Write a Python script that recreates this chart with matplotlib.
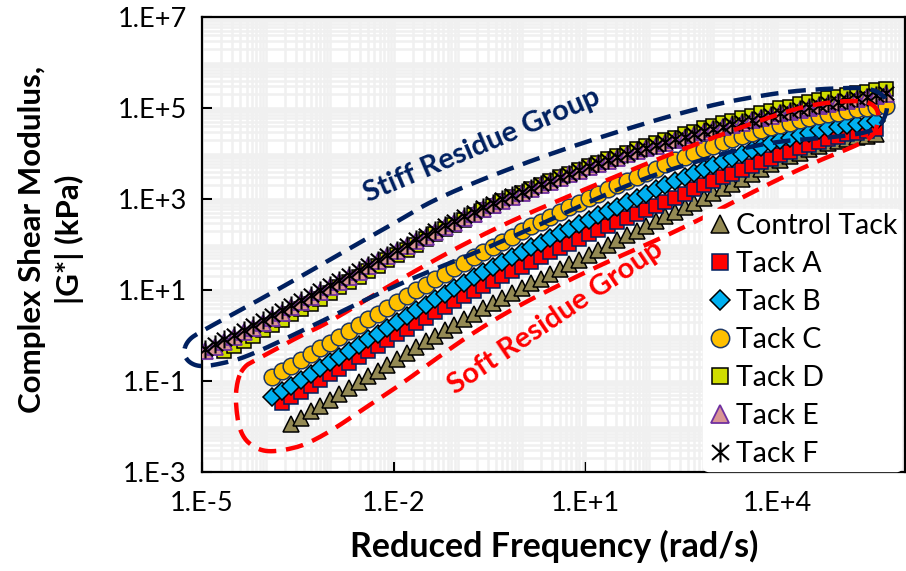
import numpy as np
import matplotlib
matplotlib.use("Agg")
import matplotlib.pyplot as plt
from matplotlib.path import Path
from matplotlib.transforms import Affine2D
from matplotlib.ticker import FixedLocator, LogLocator, FuncFormatter, NullFormatter

plt.rcParams['font.family'] = ['Lato', 'DejaVu Sans']

# log10 of reduced frequency (rad/s), shared grid
log_freq = [-4.95, -4.80, -4.65, -4.50, -4.35, -4.20, -4.05, -3.90, -3.75, -3.60, -3.45, -3.30,
            -3.15, -3.00, -2.85, -2.70, -2.55, -2.40, -2.25, -2.10, -1.95, -1.80, -1.65, -1.50,
            -1.35, -1.20, -1.05, -0.90, -0.75, -0.60, -0.45, -0.30, -0.15, 0.00, 0.15, 0.30,
            0.45, 0.60, 0.75, 0.90, 1.05, 1.20, 1.35, 1.50, 1.65, 1.80, 1.95, 2.10,
            2.25, 2.40, 2.55, 2.70, 2.85, 3.00, 3.15, 3.30, 3.45, 3.60, 3.75, 3.90,
            4.05, 4.20, 4.35, 4.50, 4.65, 4.80, 4.95, 5.10, 5.25, 5.40, 5.55, 5.70]

series_names = ["Control Tack", "Tack A", "Tack B", "Tack C", "Tack D", "Tack E", "Tack F"]
start_idx = [9, 8, 7, 7, 2, 0, 0]

# log10 of |G*| (kPa)
control_logG = [-1.94, -1.81, -1.67, -1.54, -1.41, -1.28, -1.15, -1.02, -0.90, -0.77, -0.64, -0.51,
                -0.39, -0.26, -0.13, -0.01, 0.11, 0.23, 0.36, 0.48, 0.60, 0.71, 0.82, 0.93,
                1.04, 1.15, 1.25, 1.36, 1.46, 1.57, 1.67, 1.78, 1.88, 1.99, 2.09, 2.20,
                2.30, 2.41, 2.51, 2.62, 2.72, 2.82, 2.92, 3.03, 3.13, 3.24, 3.34, 3.45,
                3.55, 3.65, 3.76, 3.85, 3.94, 4.02, 4.09, 4.16, 4.22, 4.28, 4.32, 4.36,
                4.39, 4.42]
tackA_logG = [-1.49, -1.36, -1.24, -1.11, -0.98, -0.85, -0.73, -0.60, -0.47, -0.35, -0.22, -0.09,
              0.03, 0.15, 0.27, 0.39, 0.51, 0.63, 0.75, 0.86, 0.98, 1.09, 1.20, 1.30,
              1.41, 1.51, 1.62, 1.72, 1.83, 1.93, 2.02, 2.12, 2.22, 2.31, 2.40, 2.49,
              2.58, 2.67, 2.76, 2.85, 2.94, 3.03, 3.12, 3.21, 3.30, 3.39, 3.48, 3.56,
              3.64, 3.73, 3.81, 3.89, 3.97, 4.04, 4.11, 4.18, 4.25, 4.31, 4.37, 4.42,
              4.46, 4.50, 4.53]
tackB_logG = [-1.36, -1.23, -1.11, -0.98, -0.85, -0.72, -0.59, -0.47, -0.34, -0.21, -0.08, 0.04,
              0.17, 0.30, 0.42, 0.55, 0.67, 0.80, 0.92, 1.04, 1.16, 1.28, 1.40, 1.51,
              1.62, 1.73, 1.83, 1.94, 2.04, 2.15, 2.25, 2.34, 2.44, 2.54, 2.64, 2.73,
              2.83, 2.93, 3.03, 3.12, 3.21, 3.30, 3.39, 3.48, 3.57, 3.66, 3.75, 3.83,
              3.91, 3.99, 4.07, 4.15, 4.22, 4.29, 4.35, 4.41, 4.46, 4.51, 4.55, 4.58,
              4.62, 4.65, 4.68, 4.71]
tackC_logG = [-0.92, -0.79, -0.67, -0.54, -0.41, -0.28, -0.16, -0.03, 0.10, 0.23, 0.36, 0.48,
              0.61, 0.74, 0.87, 0.99, 1.12, 1.24, 1.36, 1.48, 1.60, 1.72, 1.84, 1.95,
              2.06, 2.17, 2.29, 2.40, 2.50, 2.61, 2.71, 2.82, 2.92, 3.02, 3.12, 3.21,
              3.31, 3.40, 3.49, 3.58, 3.67, 3.76, 3.85, 3.93, 4.01, 4.09, 4.17, 4.25,
              4.32, 4.39, 4.46, 4.52, 4.58, 4.63, 4.68, 4.73, 4.78, 4.82, 4.86, 4.90,
              4.94, 4.97, 5.00, 5.02, 5.04]
tackD_logG = [-0.34, -0.23, -0.12, -0.01, 0.11, 0.22, 0.34, 0.47, 0.58, 0.70, 0.81, 0.94,
              1.06, 1.17, 1.29, 1.42, 1.53, 1.65, 1.77, 1.88, 2.00, 2.11, 2.22, 2.33,
              2.43, 2.54, 2.65, 2.75, 2.85, 2.95, 3.04, 3.14, 3.22, 3.31, 3.39, 3.48,
              3.56, 3.64, 3.73, 3.80, 3.88, 3.95, 4.02, 4.10, 4.16, 4.23, 4.29, 4.35,
              4.42, 4.48, 4.55, 4.61, 4.67, 4.72, 4.77, 4.83, 4.88, 4.93, 4.99, 5.03,
              5.08, 5.13, 5.17, 5.21, 5.25, 5.28, 5.32, 5.36, 5.39, 5.42]
tackE_logG = [-0.35, -0.25, -0.14, -0.04, 0.07, 0.17, 0.28, 0.39, 0.50, 0.62, 0.73, 0.84,
              0.95, 1.07, 1.18, 1.29, 1.40, 1.52, 1.63, 1.74, 1.85, 1.96, 2.07, 2.17,
              2.28, 2.38, 2.48, 2.58, 2.68, 2.78, 2.87, 2.96, 3.05, 3.14, 3.22, 3.30,
              3.38, 3.46, 3.54, 3.62, 3.70, 3.77, 3.84, 3.91, 3.98, 4.05, 4.11, 4.17,
              4.23, 4.29, 4.35, 4.41, 4.47, 4.53, 4.58, 4.63, 4.68, 4.73, 4.78, 4.83,
              4.88, 4.92, 4.96, 5.01, 5.05, 5.09, 5.13, 5.16, 5.20, 5.24, 5.27, 5.30]
tackF_logG = [-0.29, -0.19, -0.08, 0.02, 0.13, 0.23, 0.34, 0.45, 0.56, 0.68, 0.79, 0.90,
              1.01, 1.12, 1.22, 1.33, 1.44, 1.56, 1.67, 1.78, 1.89, 2.00, 2.11, 2.21,
              2.32, 2.42, 2.52, 2.62, 2.72, 2.82, 2.91, 3.00, 3.09, 3.16, 3.24, 3.32,
              3.40, 3.48, 3.56, 3.64, 3.72, 3.79, 3.86, 3.93, 4.00, 4.07, 4.13, 4.19,
              4.25, 4.31, 4.37, 4.43, 4.49, 4.54, 4.59, 4.64, 4.69, 4.74, 4.79, 4.84,
              4.89, 4.93, 4.97, 5.02, 5.06, 5.10, 5.14, 5.17, 5.21, 5.25, 5.28, 5.32]

all_logG = [control_logG, tackA_logG, tackB_logG, tackC_logG, tackD_logG, tackE_logG, tackF_logG]

y_tick_exps = [-3, -1, 1, 3, 5, 7]
x_tick_exps = [-5, -2, 1, 4]

# asterisk-like marker for Tack F (X with a vertical bar)
star_path = Path([(0, 1), (0, -1), (-0.85, 0.75), (0.85, -0.75), (-0.85, -0.75), (0.85, 0.75)],
                 [Path.MOVETO, Path.LINETO, Path.MOVETO, Path.LINETO, Path.MOVETO, Path.LINETO])

styles = [
    dict(marker='^', ms=12, mfc='#948A54', mec='black', mew=1.1),
    dict(marker='s', ms=10, mfc='#FF0000', mec='#002060', mew=1.1),
    dict(marker='D', ms=9, mfc='#00B0F0', mec='black', mew=1.1),
    dict(marker='o', ms=12, mfc='#FFC000', mec='#1F3864', mew=1.1),
    dict(marker='s', ms=10, mfc='#CFDC00', mec='black', mew=1.1),
    dict(marker='^', ms=12, mfc='#D99594', mec='#7030A0', mew=1.3),
    dict(marker=star_path, ms=13, mfc='none', mec='black', mew=1.5),
]

W, H = 906, 571
fig = plt.figure(figsize=(W / 100, H / 100), dpi=100)
ax = fig.add_axes([202 / W, 99 / H, 703 / W, 455 / H])
ax.set_xscale('log')
ax.set_yscale('log')
ax.set_xlim(1e-5, 1e6)
ax.set_ylim(1e-3, 1e7)

handles = []
for name, logG, i0, st in zip(series_names, all_logG, start_idx, styles):
    lf = np.array(log_freq[i0:i0 + len(logG)])
    ax.plot(10 ** lf, 10 ** np.array(logG), linestyle='none', zorder=3, **st)
    # legend handle with slightly bigger marker, like the Excel legend
    h, = ax.plot([], [], linestyle='none', label=name, **dict(st, ms=st['ms'] * 1.1))
    handles.append(h)

# grid on every decade and sub-decade
ax.xaxis.set_major_locator(FixedLocator([10.0 ** e for e in x_tick_exps]))
ax.yaxis.set_major_locator(FixedLocator([10.0 ** e for e in y_tick_exps]))
ax.xaxis.set_minor_locator(LogLocator(base=10, subs=np.arange(1, 10), numticks=100))
ax.yaxis.set_minor_locator(LogLocator(base=10, subs=np.arange(1, 10), numticks=100))
ax.xaxis.set_minor_formatter(NullFormatter())
ax.yaxis.set_minor_formatter(NullFormatter())
fmt = FuncFormatter(lambda v, p: "1.E{:+d}".format(int(round(np.log10(v)))))
ax.xaxis.set_major_formatter(fmt)
ax.yaxis.set_major_formatter(fmt)
ax.grid(which='both', color='#F0F0F0', lw=1.8)
ax.set_axisbelow(True)
ax.tick_params(which='major', direction='in', length=7, width=1.5, labelsize=19.5, color='black')
ax.tick_params(axis='y', which='major', pad=11)
ax.tick_params(axis='x', which='major', pad=14)
ax.tick_params(which='minor', length=0)
for sp in ax.spines.values():
    sp.set_linewidth(1.6)
    sp.set_color('black')

fig.text(554 / W, 1 - 546 / H, "Reduced Frequency (rad/s)", ha='center', va='center',
         fontsize=24.5, fontweight='bold')
fig.text(51 / W, 1 - 239 / H, "Complex Shear Modulus,\n|G*| (kPa)", ha='center', va='center',
         rotation=90, fontsize=22.5, fontweight='bold', linespacing=1.4)


def chaikin(pts, n=3):
    p = np.asarray(pts, dtype=float)
    for _ in range(n):
        q = np.roll(p, -1, axis=0)
        new = np.empty((2 * len(p), 2))
        new[0::2] = 0.75 * p + 0.25 * q
        new[1::2] = 0.25 * p + 0.75 * q
        p = new
    return np.vstack([p, p[:1]])


# group outlines, image pixel coordinates
pix = Affine2D().scale(1 / W, -1 / H).translate(0, 1) + fig.transFigure
navy_outline = [(183, 352), (188, 340), (200, 332), (250, 305), (300, 277), (350, 248), (400, 220),
                (433, 200), (500, 172), (590, 140), (700, 107), (780, 92), (837, 88), (870, 88),
                (885, 96), (888, 108), (882, 124), (870, 132), (837, 137), (767, 142), (700, 160),
                (630, 183), (500, 243), (400, 283), (310, 327), (247, 357), (220, 364), (200, 367),
                (188, 362)]
red_outline = [(238, 377), (245, 366), (252, 362), (280, 347), (300, 336), (330, 322), (400, 279),
               (490, 230), (590, 187), (680, 150), (780, 113), (820, 103), (863, 100), (877, 107),
               (879, 120), (873, 137), (853, 147), (820, 160), (770, 183), (680, 230), (595, 267),
               (490, 320), (400, 385), (380, 398), (313, 443), (277, 452), (257, 450), (240, 435),
               (235, 400)]
for outline, col in [(red_outline, '#FF0000'), (navy_outline, '#002060')]:
    sm = chaikin(outline)
    ax.plot(sm[:, 0], sm[:, 1], transform=pix, color=col, lw=3.2, ls=(0, (4, 2.2)),
            clip_on=False, zorder=5)

ax.text(482, 145, "Stiff Residue Group", transform=pix, color='#002060', fontsize=21,
        fontweight='bold', rotation=23, ha='center', va='center', rotation_mode='anchor', zorder=6)
ax.text(556, 318, "Soft Residue Group", transform=pix, color='#FF0000', fontsize=21,
        fontweight='bold', rotation=34, ha='center', va='center', rotation_mode='anchor', zorder=6)

leg = ax.legend(handles=handles, loc='upper left',
                bbox_to_anchor=((703 - 202) / 703, (472 - 209) / 455),
                borderaxespad=0, fontsize=20.5, frameon=True, facecolor='white', edgecolor='white',
                framealpha=1, handlelength=0.9, handletextpad=0.1, labelspacing=0.42,
                borderpad=0.15)
leg.set_zorder(7)

fig.savefig("out.png", dpi=100)
